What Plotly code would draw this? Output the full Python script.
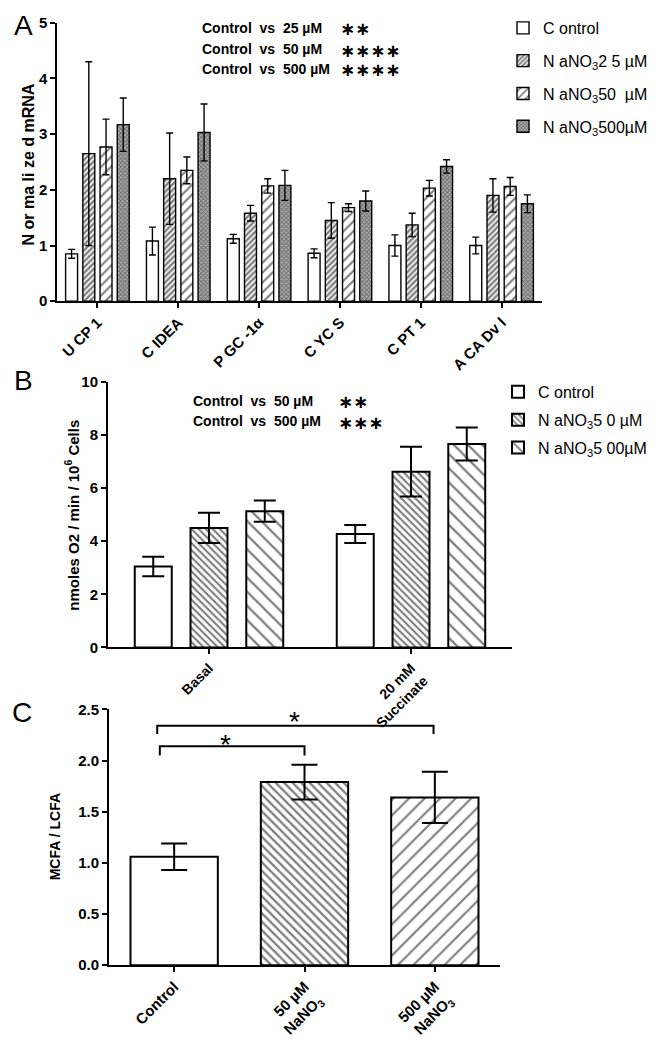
import plotly.graph_objects as go

# ---------------- data ----------------
genes = ["U CP 1", "C IDEA", "P GC -1α", "C YC S", "C PT 1", "A CA Dv l"]
a_control = [0.85, 1.08, 1.12, 0.86, 1.00, 1.00]
a_control_err = [0.08, 0.25, 0.08, 0.08, 0.19, 0.15]
a_25 = [2.65, 2.20, 1.58, 1.45, 1.37, 1.90]
a_25_err = [1.65, 0.82, 0.14, 0.32, 0.21, 0.30]
a_50 = [2.77, 2.35, 2.07, 1.68, 2.03, 2.06]
a_50_err = [0.50, 0.24, 0.13, 0.07, 0.14, 0.16]
a_500 = [3.17, 3.03, 2.08, 1.80, 2.42, 1.75]
a_500_err = [0.48, 0.51, 0.27, 0.18, 0.12, 0.16]
a_names = ["C ontrol", "N aNO<sub>3</sub>2 5 µM", "N aNO<sub>3</sub>50  µM", "N aNO<sub>3</sub>500µM"]

conditions = ["Basal", "20 mM<br>Succinate"]
b_control = [3.05, 4.27]
b_control_err = [0.37, 0.34]
b_50 = [4.50, 6.62]
b_50_err = [0.57, 0.94]
b_500 = [5.13, 7.66]
b_500_err = [0.40, 0.62]
b_names = ["C ontrol", "N aNO<sub>3</sub>5 0 µM", "N aNO<sub>3</sub>5 00µM"]

c_groups = ["Control", "50 µM<br>NaNO<sub>3</sub>", "500 µM<br>NaNO<sub>3</sub>"]
c_values = [1.06, 1.79, 1.64]
c_err = [0.13, 0.17, 0.25]

FONT = "Liberation Sans, Arial, sans-serif"
W, H = 660, 1048


def px(x):
    return x / W


def py(y):
    return 1 - y / H


fig = go.Figure()


def add_group(xcats, series, errs, names, patterns, xa, ya, w, pitch, lw, capw, legend=None):
    n = len(series)
    for i, (vals, err, name, pat) in enumerate(zip(series, errs, names, patterns)):
        off = (i - (n - 1) / 2) * pitch - w / 2
        marker = dict(color="white", line=dict(color="black", width=lw))
        if pat is not None:
            marker["pattern"] = pat
        fig.add_trace(go.Bar(
            x=xcats, y=vals, name=name, xaxis=xa, yaxis=ya,
            width=w, offset=off, marker=marker,
            error_y=dict(type="data", array=err, color="black", thickness=lw, width=capw),
            showlegend=legend is not None, legend=legend if legend else "legend",
            legendgroup=(legend or "") + str(i),
        ))


# Panel A
pat_a25 = dict(shape="/", size=4, solidity=0.6, fgcolor="black", bgcolor="white")
pat_a50 = dict(shape="/", size=7, solidity=0.3, fgcolor="black", bgcolor="white")
pat_a500 = dict(shape="x", size=3, solidity=0.5, fgcolor="#222222", bgcolor="#b0b0b0")
add_group(genes, [a_control, a_25, a_50, a_500],
          [a_control_err, a_25_err, a_50_err, a_500_err], a_names,
          [None, pat_a25, pat_a50, pat_a500], "x", "y", 0.148, 0.213, 1.4, 3.5, legend="legend")

# Panel B
pat_b50 = dict(shape="\\", size=5, solidity=0.42, fgcolor="black", bgcolor="white")
pat_b500 = dict(shape="\\", size=10, solidity=0.22, fgcolor="black", bgcolor="white")
add_group(conditions, [b_control, b_50, b_500], [b_control_err, b_50_err, b_500_err], b_names,
          [None, pat_b50, pat_b500], "x2", "y2", 0.183, 0.276, 2, 11, legend="legend2")

# Panel C
pat_c = [None,
         dict(shape="\\", size=6, solidity=0.38, fgcolor="black", bgcolor="white"),
         dict(shape="/", size=11, solidity=0.2, fgcolor="black", bgcolor="white")]
for i in range(3):
    marker = dict(color="white", line=dict(color="black", width=2))
    if pat_c[i] is not None:
        marker["pattern"] = pat_c[i]
    fig.add_trace(go.Bar(
        x=[c_groups[i]], y=[c_values[i]], xaxis="x3", yaxis="y3",
        width=0.67, offset=-0.335, marker=marker, showlegend=False,
        error_y=dict(type="data", array=[c_err[i]], color="black", thickness=2, width=13),
    ))

axis_common = dict(showgrid=False, zeroline=False, showline=True, linecolor="black",
                   ticks="outside", ticklen=5, tickcolor="black", mirror=False)
tickfont = dict(family=FONT, size=15, color="black", weight="bold")

fig.update_layout(
    width=W, height=H, margin=dict(l=0, r=0, t=0, b=0),
    paper_bgcolor="white", plot_bgcolor="white", barmode="overlay",
    font=dict(family=FONT, color="black"),
    xaxis=dict(domain=[px(57), px(542)], anchor="y", range=[-0.5, 5.5], tickangle=-45,
               linewidth=1.5, tickwidth=1.5, tickfont=dict(family=FONT, size=15, color="black", weight="bold"),
               categoryorder="array", categoryarray=genes, **axis_common),
    yaxis=dict(domain=[py(297), py(14)], anchor="x", range=[0, 5], dtick=1,
               linewidth=1.5, tickwidth=1.5, tickfont=tickfont, **axis_common),
    xaxis2=dict(domain=[px(108), px(512)], anchor="y2", range=[-0.5, 1.5], tickangle=-45,
                linewidth=2, tickwidth=2, tickfont=dict(family=FONT, size=14, color="black", weight="bold"),
                categoryorder="array", categoryarray=conditions, **axis_common),
    yaxis2=dict(domain=[py(649), py(379)], anchor="x2", range=[0, 10], dtick=2,
                linewidth=2, tickwidth=2, tickfont=tickfont, **axis_common),
    xaxis3=dict(domain=[px(109), px(500)], anchor="y3", range=[-0.5, 2.5], tickangle=-45,
                linewidth=2, tickwidth=2, tickfont=dict(family=FONT, size=15, color="black", weight="bold"),
                categoryorder="array", categoryarray=c_groups, **axis_common),
    yaxis3=dict(domain=[py(972), py(712)], anchor="x3", range=[0, 2.5], dtick=0.5, tickformat=".1f",
                linewidth=2, tickwidth=2, tickfont=tickfont, **axis_common),
    legend=dict(x=px(503), y=py(2), xanchor="left", yanchor="top", bgcolor="rgba(0,0,0,0)",
                font=dict(family=FONT, size=16, color="black"), tracegroupgap=9,
                itemwidth=30),
    legend2=dict(x=px(498), y=py(372), xanchor="left", yanchor="top", bgcolor="rgba(0,0,0,0)",
                 font=dict(family=FONT, size=16, color="black"), tracegroupgap=4,
                 itemwidth=30),
)

ann = []


def text(x, y, s, size=13, bold=True, xanchor="left", angle=0, family=FONT):
    ann.append(dict(x=px(x), y=py(y), xref="paper", yref="paper", text=s, showarrow=False,
                    xanchor=xanchor, yanchor="middle", textangle=angle,
                    font=dict(family=family, size=size, color="black",
                              weight="bold" if bold else "normal")))


# panel letters
text(23, 17, "A", size=28, bold=False, xanchor="center")
text(23, 378, "B", size=28, bold=False, xanchor="center")
text(22, 715, "C", size=28, bold=False, xanchor="center")

# axis titles
text(28, 158, "N or ma li ze d mRNA", size=16, xanchor="center", angle=-90)
text(72, 515, "nmoles O2 / min / 10<sup>6</sup> Cells", size=15, xanchor="center", angle=-90)
text(55, 842, "MCFA / LCFA", size=14, xanchor="center", angle=-90)

# panel A stats
for y, lab, stars in [(19, "Control  vs  25 µM", "∗∗"), (41, "Control  vs  50 µM", "∗∗∗∗"),
                      (61, "Control  vs  500 µM", "∗∗∗∗")]:
    text(200, y, lab, size=14)
    text(338, y + 1, stars, size=18, bold=True, family="DejaVu Sans")

# panel B stats
for y, lab, stars in [(398, "Control  vs  50 µM", "∗∗"), (419, "Control  vs  500 µM", "∗∗∗")]:
    text(191, y, lab, size=14)
    text(336, y + 1, stars, size=18, bold=True, family="DejaVu Sans")

# panel C significance brackets
shape_line = dict(color="black", width=2)
shapes = [
    dict(type="path", xref="x3", yref="y3", path="M -0.13,2.26 L -0.13,2.34 L 1.99,2.34 L 1.99,2.26",
         line=shape_line),
    dict(type="path", xref="x3", yref="y3", path="M -0.11,2.05 L -0.11,2.14 L 1.0,2.14 L 1.0,2.05",
         line=shape_line),
]
ann.append(dict(x=0.92, y=2.44, xref="x3", yref="y3", text="*", showarrow=False,
                font=dict(family=FONT, size=28, color="black"), yanchor="middle", yshift=-6))
ann.append(dict(x=0.39, y=2.22, xref="x3", yref="y3", text="*", showarrow=False,
                font=dict(family=FONT, size=28, color="black"), yanchor="middle", yshift=-6))

fig.update_layout(annotations=ann, shapes=shapes)
fig.write_html("out.html", config={"displayModeBar": False},
               post_script="document.body.style.margin='0';")
